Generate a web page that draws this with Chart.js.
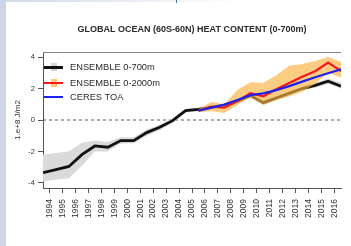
<!DOCTYPE html>
<html>
<head>
<meta charset="utf-8">
<script src="https://cdn.jsdelivr.net/npm/chart.js@4.4.1/dist/chart.umd.min.js"></script>
<style>
  body { margin: 0; background: #fff; }
  #wrap { position: relative; width: 351px; height: 246px; overflow: hidden;
    background: linear-gradient(to right, #cdd6e6 0, #cdd6e6 6px, #fff 6px); }
  #topstrip { position: absolute; left: 6px; top: 0; width: 345px; height: 2px;
    background: linear-gradient(to right, #d3dbe8, #fff 70%); }
  #tick { position: absolute; left: 176px; top: 0; width: 1px; height: 3px; background: #4a6fb0; }
  canvas { position: absolute; left: 0; top: 0; }
  .row { position: absolute; left: 44px; height: 12px; width: 140px;
    font: 9.3px "Liberation Sans", Arial, sans-serif; color: #2a2a2a; }
  .row .ln { position: absolute; left: 0; width: 19px; }
  .row .bx { position: absolute; left: 7px; top: 2px; width: 6px; height: 8px; }
  .row .tx { position: absolute; left: 26px; top: 0; line-height: 12px; white-space: nowrap; }
</style>
</head>
<body>
<div id="wrap">
  <div id="topstrip"></div>
  <div id="tick"></div>
  <canvas id="heatChart" width="351" height="246"></canvas>
  <div class="row" style="top:61px"><span class="bx" style="background:#d6d6d6"></span><span class="ln" style="top:5px;height:2.5px;background:#111"></span><span class="tx">ENSEMBLE 0-700m</span></div>
  <div class="row" style="top:77px"><span class="bx" style="background:#fcc77a"></span><span class="ln" style="top:5px;height:2px;background:#f51a1a"></span><span class="tx">ENSEMBLE 0-2000m</span></div>
  <div class="row" style="top:91px"><span class="ln" style="top:5px;height:2px;background:#1e22ee"></span><span class="tx">CERES TOA</span></div>
</div>
<script>
// mid-year positions
var years = [1993.5, 1994.5, 1995.5, 1996.5, 1997.5, 1998.5, 1999.5, 2000.5, 2001.5, 2002.5, 2003.5, 2004.5,
  2005.5, 2006.5, 2007.5, 2008.5, 2009.5, 2010.5, 2011.5, 2012.5, 2013.5, 2014.5, 2015.5, 2016.5];
var xTicks = [1994, 1995, 1996, 1997, 1998, 1999, 2000, 2001, 2002, 2003, 2004, 2005,
  2006, 2007, 2008, 2009, 2010, 2011, 2012, 2013, 2014, 2015, 2016];
var yTicks = [-4, -2, 0, 2, 4];

// ENSEMBLE 0-700m and its spread
var ens700 = [-3.34, -3.15, -2.95, -2.2, -1.65, -1.73, -1.31, -1.31, -0.8, -0.46, -0.04, 0.6,
  0.68, 0.8, 0.95, 1.2, 1.55, 1.1, 1.4, 1.7, 2.0, 2.2, 2.47, 2.15];
var ens700Up = [-2.2, -2.1, -2.0, -1.45, -1.3, -1.4, -1.1, -1.1, -0.6, -0.3, 0.1, 0.72,
  0.8, 0.92, 1.07, 1.32, 1.67, 1.22, 1.52, 1.82, 2.12, 2.35, 2.65, 2.35];
var ens700Lo = [-3.9, -3.8, -3.7, -2.9, -2.0, -2.0, -1.5, -1.5, -1.0, -0.65, -0.2, 0.48,
  0.56, 0.68, 0.83, 1.08, 1.43, 0.98, 1.28, 1.58, 1.88, 2.05, 2.3, 1.98];

// ENSEMBLE 0-2000m and CERES TOA (from 2005)
var ens2000 = [0.59, 0.85, 0.78, 1.2, 1.7, 1.5, 1.95, 2.35, 2.75, 3.1, 3.65, 3.1];
var ens2000Up = [0.7, 1.15, 1.0, 1.9, 2.4, 2.35, 2.85, 3.45, 3.55, 3.75, 4.0, 3.7];
var ens2000Lo = [0.5, 0.55, 0.45, 0.95, 1.45, 0.95, 1.25, 1.5, 1.8, 2.3, 3.0, 2.7];
var ceres = [0.59, 0.79, 0.98, 1.27, 1.58, 1.69, 1.9, 2.15, 2.44, 2.72, 2.97, 3.22];

var zeroLine = [{x: 1993.5, y: 0}, {x: 2016.5, y: 0}];

function pts(xs, ys) {
  return ys.map(function (v, i) { return {x: xs[i], y: v}; });
}
var lateYears = years.slice(12);
var fontFam = '"Liberation Sans", Arial, sans-serif';

var topBorder = {
  id: 'topBorder',
  afterDraw: function (chart) {
    var a = chart.chartArea, ctx = chart.ctx;
    ctx.save();
    ctx.strokeStyle = '#888';
    ctx.lineWidth = 1;
    ctx.beginPath();
    ctx.moveTo(a.left, a.top + 0.5);
    ctx.lineTo(a.right, a.top + 0.5);
    ctx.stroke();
    ctx.restore();
  }
};

var ctx = document.getElementById('heatChart').getContext('2d');
var heatChart = new Chart(ctx, {
  type: 'line',
  data: {
    datasets: [
      { label: 'CERES TOA', data: pts(lateYears, ceres), borderColor: '#1e22ee', borderWidth: 2.2, order: 0 },
      { label: 'ENSEMBLE 0-2000m', data: pts(lateYears, ens2000), borderColor: '#f51a1a', borderWidth: 2.2, order: 1 },
      { label: 'up2000', data: pts(lateYears, ens2000Up), borderWidth: 0, fill: 3,
        backgroundColor: 'rgba(252,176,64,0.65)', order: 2 },
      { label: 'lo2000', data: pts(lateYears, ens2000Lo), borderWidth: 0, order: 2 },
      { label: 'ENSEMBLE 0-700m', data: pts(years, ens700), borderColor: '#111', borderWidth: 2.8, order: 3 },
      { label: 'up700', data: pts(years, ens700Up), borderWidth: 0, fill: 6,
        backgroundColor: '#dadada', order: 4 },
      { label: 'lo700', data: pts(years, ens700Lo), borderWidth: 0, order: 4 },
      { label: 'zero', data: zeroLine, borderColor: '#555', borderWidth: 1, borderDash: [3, 3], order: 5 }
    ]
  },
  options: {
    responsive: false,
    animation: false,
    devicePixelRatio: 1,
    layout: { padding: 0 },
    elements: {
      point: { radius: 0, hoverRadius: 0 },
      line: { tension: 0, fill: false, borderCapStyle: 'butt' }
    },
    plugins: {
      legend: { display: false },
      tooltip: { enabled: false },
      title: {
        display: true,
        fullSize: false,
        text: 'GLOBAL OCEAN (60S-60N) HEAT CONTENT (0-700m)',
        color: '#2a2a2a',
        font: { family: fontFam, size: 9, weight: 'bold' },
        padding: { top: 24.6, bottom: 16.6 }
      }
    },
    scales: {
      x: {
        type: 'linear',
        min: 1993.5,
        max: 2016.5,
        afterBuildTicks: function (scale) {
          scale.ticks = xTicks.map(function (v) { return {value: v}; });
        },
        afterFit: function (scale) { scale.height = 58; },
        ticks: {
          autoSkip: false,
          minRotation: 90,
          maxRotation: 90,
          padding: 6,
          color: '#333',
          font: { family: fontFam, size: 8.5 },
          callback: function (v) { return String(v); }
        },
        grid: { drawOnChartArea: false, tickLength: 5, color: '#555' },
        border: { display: true, color: '#555' }
      },
      y: {
        min: -4.32,
        max: 4.32,
        afterBuildTicks: function (scale) {
          scale.ticks = yTicks.map(function (v) { return {value: v}; });
        },
        afterFit: function (scale) { scale.width = 43; },
        ticks: {
          padding: 3,
          color: '#333',
          font: { family: fontFam, size: 7.5 },
          callback: function (v) { return String(v); }
        },
        grid: { drawOnChartArea: false, tickLength: 5, color: '#555' },
        border: { display: true, color: '#555' },
        title: {
          display: true,
          text: '1.e+8 J/m2',
          color: '#333',
          font: { family: fontFam, size: 8 },
          padding: { top: 13.2, bottom: 0 }
        }
      }
    }
  },
  plugins: [topBorder]
});
</script>
</body>
</html>
